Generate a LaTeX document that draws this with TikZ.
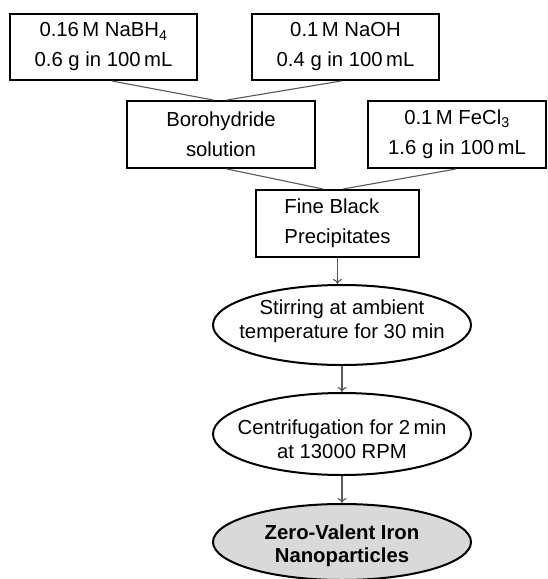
\documentclass[tikz,border=0pt]{standalone}
\usepackage{fontspec}
\setmainfont{Liberation Sans}
\usetikzlibrary{shapes.geometric,arrows.meta}
\begin{document}
\begin{tikzpicture}[x=1pt,y=-1pt,
  boxnode/.style={draw=black,line width=2pt,rectangle,inner sep=0pt,align=center,
    font=\fontsize{20.3}{30}\selectfont,text=black},
  ellnode/.style={draw=black,line width=2pt,ellipse,inner sep=0pt,minimum width=258pt},
  elltext/.style={align=center,inner sep=0pt,font=\fontsize{20.3}{24}\selectfont,text=black},
  link/.style={draw=black!65,line width=1.1pt},
  flow/.style={draw=black!65,line width=1.1pt,-{To[length=5pt,width=9pt]}}]
\useasboundingbox (0,0) rectangle (548,579);
\fill[white] (0,0) rectangle (548,579);
% boxes
\node[boxnode,minimum width=187pt,minimum height=66pt] (b1) at (103.5,47) {0.16\,M NaBH\textsubscript{4}\\0.6 g in 100\,mL};
\node[boxnode,minimum width=187pt,minimum height=66pt] (b2) at (345.5,47) {0.1\,M NaOH\\0.4 g in 100\,mL};
\node[boxnode,minimum width=188pt,minimum height=67pt] (b3) at (221,134.5) {Borohydride\\solution};
\node[boxnode,minimum width=178pt,minimum height=67pt] (b4) at (457,134.5) {0.1\,M FeCl\textsubscript{3}\\1.6 g in 100\,mL};
\node[boxnode,minimum width=163pt,minimum height=67pt,align=left] (b5) at (337.5,223.5) {Fine Black\\Precipitates};
% ellipses
\node[ellnode,minimum height=80pt] (e1) at (342,325) {};
\node[elltext] (e1t) at (342,321) {Stirring at ambient\\temperature for 30 min};
\node[ellnode,minimum height=82pt] (e2) at (342,434) {};
\node[elltext] (e2t) at (342,439) {Centrifugation for 2\,min\\at 13000 RPM};
\node[ellnode,minimum height=76pt,fill=black!15] (e3) at (342,542) {};
\node[elltext,font=\fontsize{20.3}{23}\selectfont\bfseries] (e3t) at (342,546) {Zero-Valent Iron\\Nanoparticles};
% connectors
\draw[link] ([xshift=8.5pt]b1.south) -- ([xshift=-8pt]b3.north);
\draw[link] ([xshift=-4.5pt]b2.south) -- ([xshift=6pt]b3.north);
\draw[link] ([xshift=6pt]b3.south) -- ([xshift=-14.5pt]b5.north);
\draw[link] ([xshift=-1pt]b4.south) -- ([xshift=5.5pt]b5.north);
\draw[flow] (b5.south) -- (b5.south |- e1.north);
\draw[flow] (e1.south) -- (e2.north);
\draw[flow] (e2.south) -- (e3.north);
\end{tikzpicture}
\end{document}
